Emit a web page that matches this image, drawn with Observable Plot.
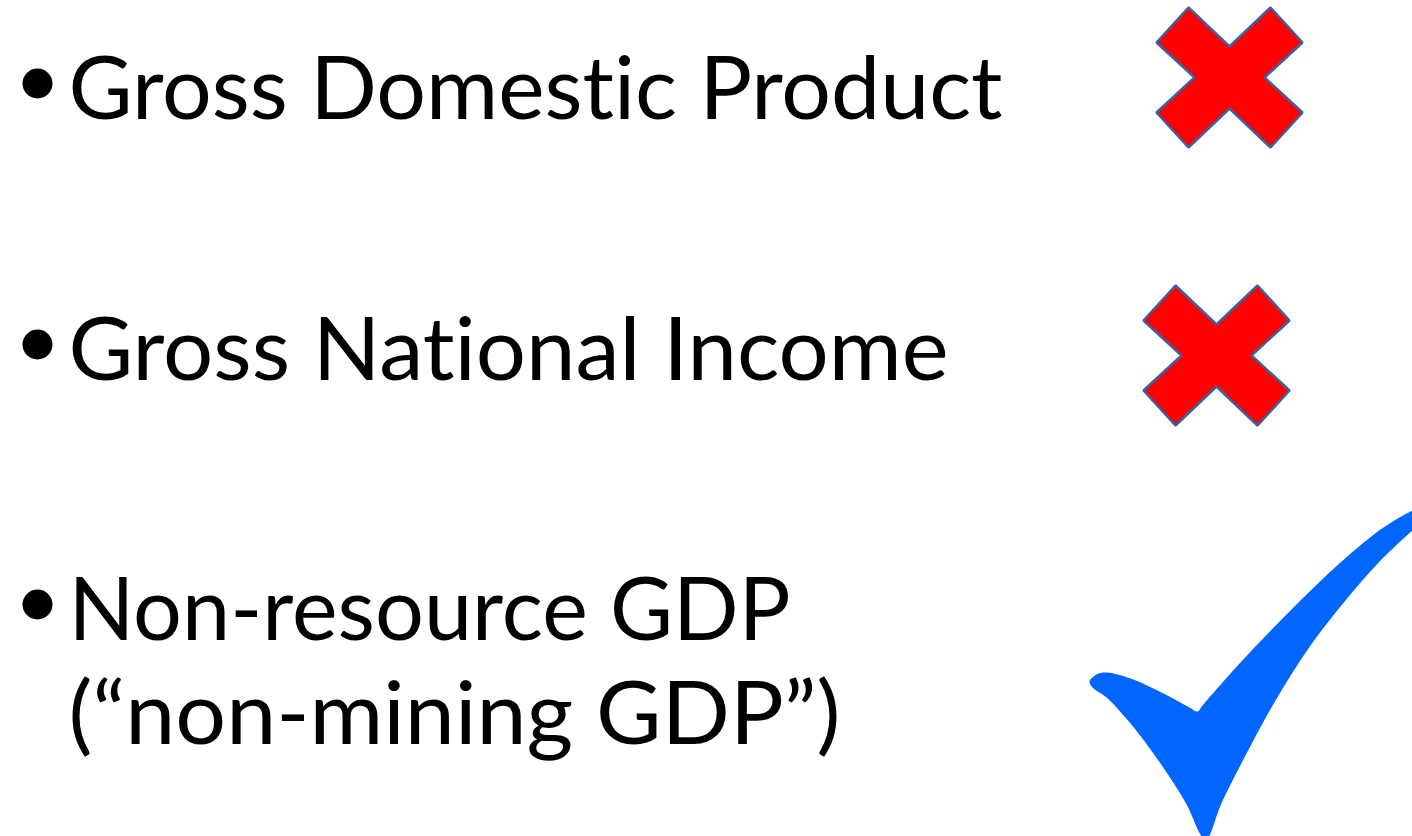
<!DOCTYPE html>
<html>
<head>
<meta charset="utf-8">
<script src="https://cdn.jsdelivr.net/npm/d3@7"></script>
<script src="https://cdn.jsdelivr.net/npm/@observablehq/plot@0.6"></script>
<style>
  html, body { margin: 0; padding: 0; background: #ffffff; }
  #chart svg { display: block; }
  #chart text { font-variant-ligatures: none; font-feature-settings: "liga" 0, "clig" 0; }
</style>
</head>
<body>
<div id="chart"></div>
<script>
// ---- Data (slide content) ----
const items = ["Gross Domestic Product", "Gross National Income", "Non-resource GDP\n(\u201cnon-mining GDP\u201d)"];
const verdicts = [false, false, true]; // false = rejected (cross), true = accepted (check)

// ---- Layout (pixel frame of the slide) ----
const W = 1412, H = 836;
const rowBaseline = [118, 379, 639];
const lineGap = 104;
const textX = 68;
const bulletX = 37, bulletLift = 35;
const glyphCenter = [[1229, 77], [1216, 355], [1197, 711]];
const lineWidths = {
  "Gross Domestic Product": 934,
  "Gross National Income": 880,
  "Non-resource GDP": 722,
  "(\u201cnon-mining GDP\u201d)": 772
};
// glyph outlines (relative to the glyph anchor)
const crossShape = [[-41,-70],[0,-31],[41,-70],[73,-35],[35,0],[73,35],[41,70],[0,31],[-41,70],[-73,35],[-35,0],[-73,-35]];
const checkShapeAbs = [
  [1089,681],[1096,674],[1106,672],[1130,678],[1165,694],[1189,707],[1197,711],[1202,705],
  [1240,662],[1290,610],[1340,562],[1383,527],[1412,510],[1420,507],[1420,524],[1412,530],
  [1380,560],[1345,600],[1310,645],[1275,700],[1245,755],[1220,805],[1207,838],[1203,838],
  [1185,802],[1160,763],[1130,723],[1106,697],[1092,687]
];

// ---- Build tables ----
const lines = items.flatMap((t, i) =>
  t.split("\n").map((s, j) => ({row: i, text: s, x: textX, y: rowBaseline[i] + j * lineGap})));
const bullets = items.map((t, i) => ({row: i, x: bulletX, y: rowBaseline[i] - bulletLift}));
const crossPts = [];
const checkPts = [];
verdicts.forEach((ok, i) => {
  const [cx, cy] = glyphCenter[i];
  if (!ok) {
    crossShape.forEach(([dx, dy]) => crossPts.push({row: i, x: cx + dx, y: cy + dy}));
  } else {
    checkShapeAbs.forEach(([px, py]) => checkPts.push({row: i, x: cx + (px - 1197), y: cy + (py - 711)}));
  }
});

const chart = Plot.plot({
  width: W,
  height: H,
  margin: 0,
  x: {domain: [0, W], range: [0, W], axis: null},
  y: {domain: [0, H], range: [0, H], axis: null},
  style: {background: "#ffffff", overflow: "hidden"},
  marks: [
    Plot.dot(bullets, {x: "x", y: "y", r: 15, fill: "#000000", stroke: null}),
    Plot.text(lines, {
      x: "x", y: "y", text: "text",
      textAnchor: "start", lineAnchor: "bottom",
      fontSize: 86.5, fontFamily: "Lato", fill: "#000000"
    }),
    Plot.line(crossPts, {x: "x", y: "y", z: "row", curve: "linear-closed",
      fill: "#FF0000", stroke: "#3F5F9E", strokeWidth: 2.5, strokeLinejoin: "miter"}),
    Plot.line(checkPts, {x: "x", y: "y", z: "row", curve: "catmull-rom-closed",
      fill: "#0066FF", stroke: "none"})
  ]
});

document.getElementById("chart").appendChild(chart);
d3.select(chart).selectAll("text").each(function() {
  const t = this.textContent;
  if (lineWidths[t]) {
    this.setAttribute("textLength", lineWidths[t]);
    this.setAttribute("lengthAdjust", "spacingAndGlyphs");
  }
});
</script>
</body>
</html>
